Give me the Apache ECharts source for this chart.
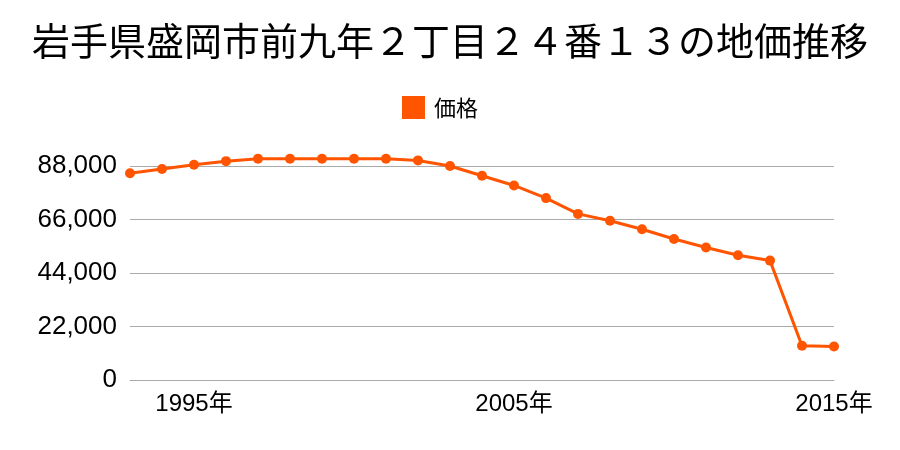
<!DOCTYPE html>
<html>
<head>
<meta charset="utf-8">
<script src="https://cdn.jsdelivr.net/npm/echarts@6/dist/echarts.min.js"></script>
<style>html,body{margin:0;padding:0;background:#fff}#c{width:900px;height:450px}</style>
</head>
<body>
<div id="c"></div>
<script>
var years = ['1993','1994','1995','1996','1997','1998','1999','2000','2001','2002','2003','2004','2005','2006','2007','2008','2009','2010','2011','2012','2013','2014','2015'];
var prices = [85000,86800,88500,90000,91000,91000,91000,91000,91000,90300,88000,84000,80000,74800,68300,65500,62000,58000,54500,51300,49100,14100,13800];
var xLabelYears = ['1995','2005','2015'];
var yTicks = [0,22000,44000,66000,88000];

var chart = echarts.init(document.getElementById('c'));
chart.setOption({
  animation: false,
  backgroundColor: '#fff',
  title: {
    text: '岩手県盛岡市前九年２丁目２４番１３の地価推移',
    left: 'center',
    top: 17,
    textStyle: {fontFamily: 'Noto Sans CJK JP', fontSize: 38, fontWeight: 'normal', color: '#000'}
  },
  legend: {
    data: ['価格'],
    left: 397,
    top: 91,
    itemWidth: 23,
    itemHeight: 23,
    icon: 'rect',
    textStyle: {fontFamily: 'Noto Sans CJK JP', fontSize: 22, color: '#000', padding: [0,0,0,4]}
  },
  grid: {left: 130, right: 66, top: 166, bottom: 70, containLabel: false},
  xAxis: {
    type: 'category',
    data: years,
    boundaryGap: false,
    axisLine: {lineStyle: {color: '#aaaaaa', width: 1}},
    axisTick: {show: false},
    axisLabel: {
      interval: function (i, v) { return xLabelYears.indexOf(v) >= 0; },
      formatter: function (v) { return v + '年'; },
      fontFamily: 'Liberation Sans, Noto Sans CJK JP',
      fontSize: 24,
      color: '#000',
      margin: 12
    },
    splitLine: {show: false}
  },
  yAxis: {
    type: 'value',
    min: yTicks[0],
    max: yTicks[yTicks.length - 1],
    interval: 22000,
    axisLine: {show: false},
    axisTick: {show: false},
    axisLabel: {
      formatter: function (v) { return v.toLocaleString('en-US'); },
      fontFamily: 'Liberation Sans',
      fontSize: 26,
      color: '#000',
      margin: 13
    },
    splitLine: {lineStyle: {color: '#aaaaaa', width: 1}}
  },
  series: [{
    name: '価格',
    type: 'line',
    data: prices,
    clip: false,
    color: '#ff5500',
    symbol: 'circle',
    symbolSize: 10,
    lineStyle: {width: 3, color: '#ff5500'},
    itemStyle: {color: '#ff5500'}
  }]
});
</script>
</body>
</html>
